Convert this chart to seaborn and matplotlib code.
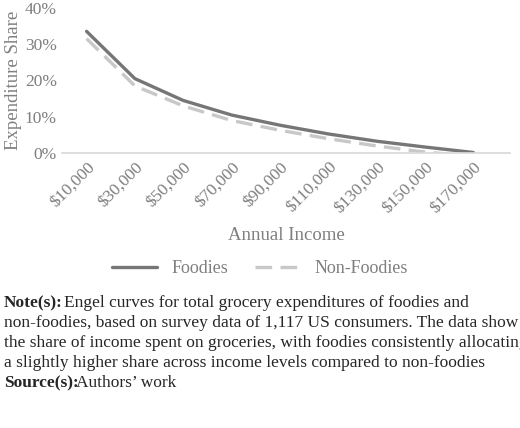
import numpy as np
import pandas as pd
import matplotlib
matplotlib.use("Agg")
import matplotlib.pyplot as plt
import seaborn as sns
from matplotlib.ticker import PercentFormatter

# Data
incomes = [10000, 30000, 50000, 70000, 90000, 110000, 130000, 150000, 170000]
income_labels = ["$10,000", "$30,000", "$50,000", "$70,000", "$90,000",
                 "$110,000", "$130,000", "$150,000", "$170,000"]
foodies = [0.335, 0.205, 0.145, 0.105, 0.077, 0.053, 0.033, 0.017, 0.002]
non_foodies = [0.315, 0.185, 0.130, 0.090, 0.063, 0.040, 0.020, 0.003, -0.008]

sns.set_theme(style="white")
plt.rcParams['font.family'] = ['Liberation Serif', 'DejaVu Serif']

GREY = "#7f7f7f"
df = pd.DataFrame({
    "x": list(range(len(incomes))) * 2,
    "share": foodies + non_foodies,
    "group": ["Foodies"] * len(incomes) + ["Non-Foodies"] * len(incomes),
})

fig = plt.figure(figsize=(5.2, 4.28), dpi=100)
ax = fig.add_axes([0.12, 0.642, 0.86, 0.34])
sns.lineplot(data=df, x="x", y="share", hue="group", style="group",
             palette={"Foodies": "#767676", "Non-Foodies": "#c8c8c8"},
             dashes={"Foodies": "", "Non-Foodies": (5, 2.5)},
             linewidth=2.4, ax=ax, legend=False)

ax.set_xlim(-0.5, len(incomes) - 0.25)
ax.set_ylim(0, 0.4)
ax.set_yticks([0, 0.1, 0.2, 0.3, 0.4])
ax.yaxis.set_major_formatter(PercentFormatter(1.0, decimals=0))
ax.set_xticks(range(len(incomes)))
ax.set_xticklabels(income_labels, rotation=45, ha="right", rotation_mode="anchor")
ax.tick_params(axis="both", colors=GREY, labelsize=12.5, length=0, pad=4)
ax.set_xlabel("Annual Income", color=GREY, fontsize=13.5, labelpad=8)
ax.set_ylabel("Expenditure Share", color=GREY, fontsize=13.5, labelpad=2)
for s in ["top", "right", "left"]:
    ax.spines[s].set_visible(False)
ax.spines["bottom"].set_color("#d9d9d9")

# legend
handles = [plt.Line2D([], [], color="#767676", lw=2.4),
           plt.Line2D([], [], color="#c8c8c8", lw=2.4, dashes=(5, 2.5))]
leg = fig.legend(handles, ["Foodies", "Non-Foodies"], loc="center",
                 bbox_to_anchor=(0.5, 0.373), ncol=2, frameon=False,
                 fontsize=13, handlelength=2.5, columnspacing=1.5)
for t in leg.get_texts():
    t.set_color(GREY)

W, H = 520, 428
note_lines = [
    "Engel curves for total grocery expenditures of foodies and",
    "non-foodies, based on survey data of 1,117 US consumers. The data show",
    "the share of income spent on groceries, with foodies consistently allocating",
    "a slightly higher share across income levels compared to non-foodies",
]
note_y = [303, 323, 343, 363]
fig.text(4 / W, 1 - note_y[0] / H, "Note(s):", fontsize=12.5, fontweight="bold", va="center")
fig.text(64 / W, 1 - note_y[0] / H, note_lines[0], fontsize=12.5, va="center")
for line, y in zip(note_lines[1:], note_y[1:]):
    fig.text(4 / W, 1 - y / H, line, fontsize=12.5, va="center")
fig.text(4 / W, 1 - 383 / H, "Source(s):", fontsize=12.5, fontweight="bold", va="center")
fig.text(76 / W, 1 - 383 / H, "Authors\u2019 work", fontsize=12.5, va="center")

fig.savefig("out.png", dpi=100)
